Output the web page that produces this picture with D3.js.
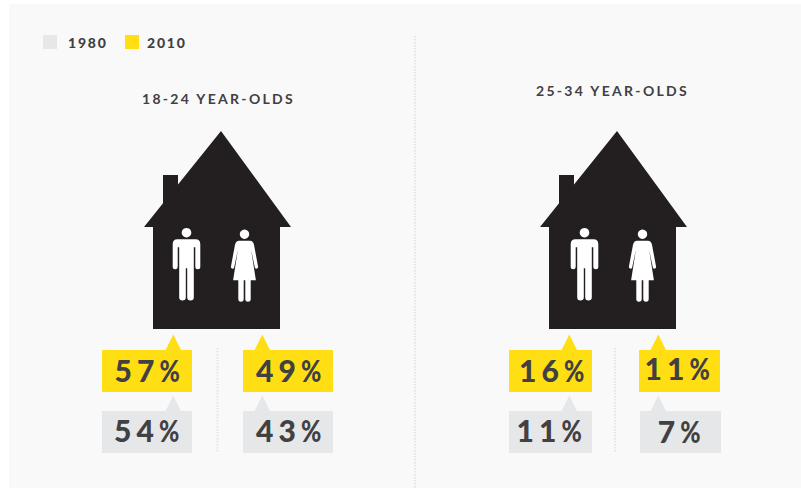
<!DOCTYPE html>
<html>
<head>
<meta charset="utf-8">
<script src="https://cdn.jsdelivr.net/npm/d3@7"></script>
<style>
  html, body { margin: 0; padding: 0; background: #fff; }
  text { font-family: Lato, sans-serif; fill: #414042; }
</style>
</head>
<body>
<div id="chart"></div>
<script>
const years = ["1980", "2010"];
const yearColors = ["#e6e7e8", "#ffde14"];
const ageGroups = ["18-24 YEAR-OLDS", "25-34 YEAR-OLDS"];
const genders = ["men", "women"];

// [men, women]
const values1980 = [[54, 43], [11, 7]];
const values2010 = [[57, 49], [16, 11]];

const width = 801, height = 488;

const svg = d3.select("#chart")
  .append("svg")
  .attr("width", width)
  .attr("height", height)
  .style("display", "block");

svg.append("rect")
  .attr("x", 9).attr("y", 4)
  .attr("width", width - 9).attr("height", height - 4)
  .attr("fill", "#f9f9f9");

// legend
const legendX = d3.scaleOrdinal().domain(years).range([43, 125]);
const legend = svg.selectAll(".legend")
  .data(years)
  .join("g")
  .attr("class", "legend")
  .attr("transform", d => `translate(${legendX(d)},35)`);

legend.append("rect")
  .attr("width", 14)
  .attr("height", 14)
  .attr("fill", (d, i) => yearColors[i]);

legend.append("text")
  .attr("x", (d, i) => i ? 22 : 25)
  .attr("y", 13)
  .attr("font-size", 14)
  .attr("font-weight", 900)
  .attr("letter-spacing", 1.8)
  .text(d => d);

// panels
const panelX = d3.scaleOrdinal().domain(ageGroups).range([0, 396]);

svg.append("line")
  .attr("x1", 415).attr("x2", 415)
  .attr("y1", 36).attr("y2", height)
  .attr("stroke", "#e4e5e5")
  .attr("stroke-width", 2)
  .attr("stroke-dasharray", "1.5 1.5");

const titleX = [218.5, 612.5];
const titleY = [104, 96];
const figureX = [0, 398];
const housePath = "M221 131L291 227H280V329H153V227H144L163 203.3V175H178V184.6Z";

// men, women tile geometry per panel
const tile1980X = [[102, 243], [509, 640]];
const tile2010X = [[102, 243], [509, 639]];
const tileW = [[90, 90], [83, 81]];
const pointerX = [[173.3, 262.3], [569.3, 658.3]];
const dividerX = [217.5, 615];

// visible centre and baseline of the labels
const label2010X = [[147.5, 289], [552, 677.5]];
const label1980X = [[147, 289], [549.5, 679.5]];
const label2010Y = [[382, 382], [382, 380]];
const label1980Y = [[442, 442], [442, 443]];
const digitPitch = 22.4, percentWidth = 21;

const man = "M0 -11.4a4.8 4.8 0 1 0 .01 0Z"
  + "M-9 0H9Q13.8 0 13.8 5V27.5a2.5 2.5 0 0 1 -5 0V8H7.3V58a3.3 3.3 0 0 1 -6.6 0V29H-.7V58a3.3 3.3 0 0 1 -6.6 0V8H-8.8V27.5a2.5 2.5 0 0 1 -5 0V5Q-13.8 0 -9 0Z";
const woman = "M0 -11.2a4.7 4.7 0 1 0 .01 0Z"
  + "M-5.5 0H5.5Q8.5 0 9.5 4L13.6 26a1.7 1.7 0 0 1 -3.2 1L6.6 9L11.4 39.6H6.2V58.3a2.7 2.7 0 0 1 -5.4 0V39.6H-.8V58.3a2.7 2.7 0 0 1 -5.4 0V39.6H-11.4L-6.6 9L-10.4 27a1.7 1.7 0 0 1 -3.2 -1L-9.5 4Q-8.5 0 -5.5 0Z";

ageGroups.forEach((group, p) => {
  const g = svg.append("g");

  g.append("text")
    .attr("x", titleX[p])
    .attr("y", titleY[p])
    .attr("text-anchor", "middle")
    .attr("font-size", 14)
    .attr("font-weight", 700)
    .attr("letter-spacing", 2.3)
    .text(group);

  const house = g.append("g").attr("transform", `translate(${panelX(group)},0)`);
  house.append("path").attr("d", housePath).attr("fill", "#231f20");
  g.append("path").attr("d", man).attr("fill", "#fff").attr("transform", `translate(${186.5 + figureX[p]},239.3)`);
  g.append("path").attr("d", woman).attr("fill", "#fff").attr("transform", `translate(${244.5 + figureX[p]},240.7)`);

  g.append("line")
    .attr("x1", dividerX[p]).attr("x2", dividerX[p])
    .attr("y1", 348).attr("y2", 453)
    .attr("stroke", "#e4e5e5")
    .attr("stroke-width", 2)
    .attr("stroke-dasharray", "1.5 1.5");

  genders.forEach((gender, k) => {
    const rows = [
      { value: values2010[p][k], color: yearColors[1], top: 350, x: tile2010X[p][k], lx: label2010X[p][k], ly: label2010Y[p][k] },
      { value: values1980[p][k], color: yearColors[0], top: 411, x: tile1980X[p][k], lx: label1980X[p][k], ly: label1980Y[p][k] }
    ];
    const tile = g.selectAll(`.tile-${gender}`)
      .data(rows)
      .join("g")
      .attr("class", `tile-${gender}`);

    tile.append("path")
      .attr("d", d => {
        const a = pointerX[p][k];
        return `M${a} ${d.top - 15.5}L${a + 7.7} ${d.top}H${a - 7.7}Z`;
      })
      .attr("fill", d => d.color);

    tile.append("rect")
      .attr("x", d => d.x)
      .attr("y", d => d.top)
      .attr("width", tileW[p][k])
      .attr("height", 42)
      .attr("fill", d => d.color);

    const digitsWidth = d => String(d.value).length * digitPitch;
    const labelLeft = d => d.lx - (digitsWidth(d) + percentWidth) / 2;

    tile.append("text")
      .attr("x", labelLeft)
      .attr("y", d => d.ly)
      .attr("font-size", 30)
      .attr("font-weight", 900)
      .attr("letter-spacing", 5)
      .text(d => d.value);

    // the % sign of the original is narrower than Lato's, so squeeze it
    tile.append("text")
      .attr("transform", d => `translate(${labelLeft(d) + digitsWidth(d)},${d.ly}) scale(0.82,1)`)
      .attr("font-size", 30)
      .attr("font-weight", 900)
      .text("%");
  });
});
</script>
</body>
</html>
